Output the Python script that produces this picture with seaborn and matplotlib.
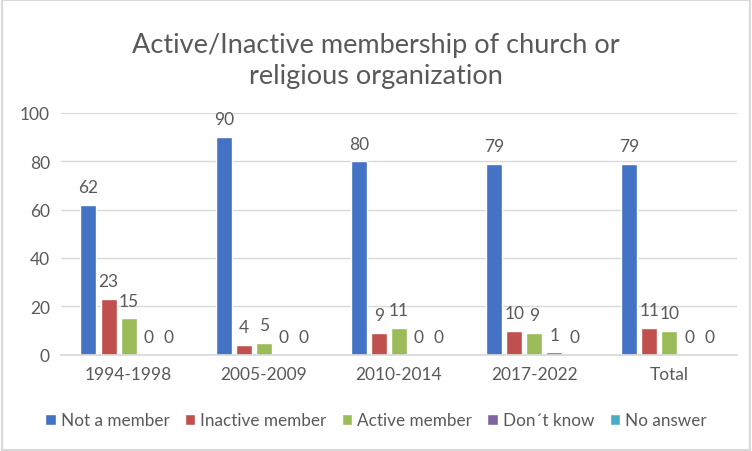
import numpy as np
import pandas as pd
import seaborn as sns
import matplotlib.pyplot as plt

periods = ['1994-1998', '2005-2009', '2010-2014', '2017-2022', 'Total']
answers = ['Not a member', 'Inactive member', 'Active member', 'Don\u00b4t know', 'No answer']
not_member = [62, 90, 80, 79, 79]
inactive = [23, 4, 9, 10, 11]
active = [15, 5, 11, 9, 10]
dont_know = [0, 0, 0, 1, 0]
no_answer = [0, 0, 0, 0, 0]

colors = ['#4472C4', '#C0504D', '#9BBB59', '#8064A2', '#4BACC6']
grey = '#595959'

rows = []
for ans, vals in zip(answers, [not_member, inactive, active, dont_know, no_answer]):
    for p, v in zip(periods, vals):
        rows.append({'period': p, 'answer': ans, 'value': v})
df = pd.DataFrame(rows)

sns.set_theme(style='white')
plt.rcParams['font.family'] = ['Lato', 'DejaVu Sans']

fig = plt.figure(figsize=(7.52, 4.52), dpi=100)
ax = fig.add_axes([0.081, 0.213, 0.899, 0.535])

sns.barplot(data=df, x='period', y='value', hue='answer', order=periods,
            hue_order=answers, palette=colors, width=0.74, gap=0.2,
            saturation=1, ax=ax, errorbar=None, legend=True)

for c in ax.containers:
    ax.bar_label(c, fmt='%d', padding=7, fontsize=12.5, color=grey)

ax.set_ylim(0, 100)
ax.set_xlim(-0.5, 4.5)
ax.set_yticks(range(0, 101, 20))
ax.yaxis.grid(True, color='#D9D9D9', linewidth=1)
ax.set_axisbelow(True)
for s in ['top', 'right', 'left']:
    ax.spines[s].set_visible(False)
ax.spines['bottom'].set_color('#D9D9D9')
ax.tick_params(axis='both', colors=grey, labelsize=12.5, length=0, pad=8)
ax.set_xlabel('')
ax.set_ylabel('')

ax.legend(loc='center', bbox_to_anchor=(0.5, 0.068), bbox_transform=fig.transFigure,
          ncol=5, frameon=False, fontsize=12.3, labelcolor=grey,
          handlelength=0.6, handleheight=0.6, handletextpad=0.3, columnspacing=0.9)

fig.text(0.5, 0.865, 'Active/Inactive membership of church or\nreligious organization',
         ha='center', va='center', fontsize=19.5, color=grey, linespacing=1.3)

fig.patches.append(plt.Rectangle((0.002, 0.003), 0.995, 0.994, transform=fig.transFigure,
                                 fill=False, edgecolor='#D9D9D9', linewidth=1.5))

fig.savefig('out.png', dpi=100, facecolor='white')
